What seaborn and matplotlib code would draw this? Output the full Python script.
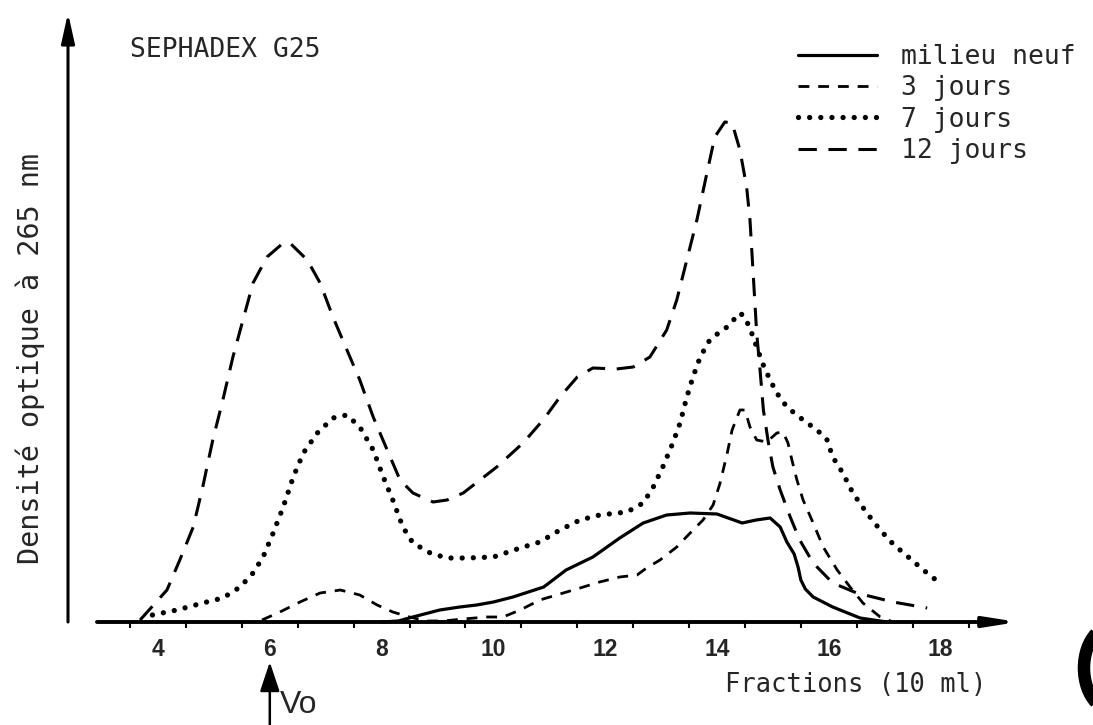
import matplotlib
matplotlib.use("Agg")
import matplotlib.pyplot as plt
from matplotlib.patches import Arc
from matplotlib.transforms import IdentityTransform
import seaborn as sns
import pandas as pd

# Elution profiles on Sephadex G25 (optical density at 265 nm, arbitrary units)
series_names = ["milieu neuf", "3 jours", "7 jours", "12 jours"]

milieu_x = [8.0, 8.3, 8.56, 9.04, 9.4, 9.7, 10.0, 10.35, 10.9, 11.3, 11.78, 12.26,
            12.68, 13.1, 13.52, 14.0, 14.2, 14.45, 14.7, 14.95, 15.13, 15.25,
            15.38, 15.45, 15.5, 15.58, 15.72, 16.07, 16.56, 17.04]
milieu_y = [0.0, 0.01, 0.05, 0.12, 0.15, 0.17, 0.20, 0.25, 0.35, 0.52, 0.65, 0.84,
            0.99, 1.07, 1.09, 1.08, 1.04, 0.99, 1.02, 1.04, 0.95, 0.80,
            0.68, 0.55, 0.42, 0.33, 0.25, 0.15, 0.04, 0.0]

j3_x = [5.86, 6.18, 6.54, 6.9, 7.26, 7.61, 7.92, 8.2, 8.5, 8.8, 9.1, 9.46, 9.88,
        10.17, 10.48, 10.83, 11.25, 11.55, 11.9, 12.26, 12.57, 12.74, 12.98,
        13.28, 13.52, 13.75, 13.93, 14.05, 14.18, 14.27, 14.41, 14.5, 14.59,
        14.71, 14.89, 15.07, 15.18, 15.27, 15.34, 15.43, 15.54, 15.72, 15.9,
        16.15, 16.38, 16.61, 16.92, 17.15]
j3_y = [0.02, 0.10, 0.20, 0.29, 0.32, 0.27, 0.17, 0.10, 0.05, 0.01, 0.01, 0.03,
        0.05, 0.05, 0.12, 0.22, 0.29, 0.34, 0.40, 0.45, 0.47, 0.54, 0.62,
        0.75, 0.89, 1.02, 1.17, 1.38, 1.68, 1.92, 2.12, 2.12, 1.95,
        1.82, 1.80, 1.89, 1.90, 1.79, 1.62, 1.42, 1.22, 0.99, 0.75,
        0.52, 0.35, 0.19, 0.05, 0.0]

j7_x = [3.9, 4.34, 4.8, 5.16, 5.47, 5.7, 5.88, 6.06, 6.24, 6.42, 6.6, 6.85, 7.13,
        7.38, 7.61, 7.85, 8.03, 8.2, 8.38, 8.56, 8.87, 9.17, 9.53, 10.0, 10.48,
        10.83, 11.19, 11.55, 11.9, 12.39, 12.68, 12.86, 13.03, 13.21, 13.34,
        13.46, 13.57, 13.7, 13.87, 14.05, 14.18, 14.41, 14.5, 14.62, 14.71,
        14.82, 14.95, 15.07, 15.25, 15.54, 15.79, 15.97, 16.07, 16.25, 16.43,
        16.68, 16.92, 17.15, 17.4, 17.63, 17.8, 17.99]
j7_y = [0.07, 0.12, 0.19, 0.24, 0.35, 0.49, 0.65, 0.89, 1.15, 1.45, 1.69, 1.89,
        2.04, 2.07, 1.95, 1.72, 1.45, 1.22, 0.95, 0.79, 0.69, 0.64, 0.64, 0.65,
        0.74, 0.80, 0.92, 1.02, 1.07, 1.10, 1.19, 1.35, 1.55, 1.79, 1.99,
        2.25, 2.45, 2.65, 2.82, 2.90, 2.95, 3.09, 3.05, 2.89, 2.75,
        2.58, 2.42, 2.29, 2.15, 2.02, 1.92, 1.82, 1.65, 1.49, 1.29,
        1.09, 0.92, 0.78, 0.66, 0.55, 0.47, 0.39]

j12_x = [3.68, 4.16, 4.39, 4.63, 4.8, 4.98, 5.16, 5.34, 5.52, 5.7, 5.95, 6.24,
         6.36, 6.67, 6.9, 7.13, 7.38, 7.61, 7.85, 8.1, 8.33, 8.56, 8.92, 9.17,
         9.46, 9.76, 10.06, 10.53, 10.89, 11.19, 11.5, 11.78, 12.2, 12.5, 12.8,
         13.1, 13.28, 13.46, 13.64, 13.82, 13.96, 14.14, 14.27, 14.41, 14.53,
         14.59, 14.64, 14.71, 14.77, 14.83, 14.92, 15.0, 15.13, 15.31, 15.48,
         15.72, 16.07, 16.5, 17.15, 17.76]
j12_y = [0.02, 0.32, 0.62, 0.95, 1.35, 1.82, 2.22, 2.65, 3.02, 3.39, 3.65, 3.79,
         3.79, 3.62, 3.39, 3.05, 2.72, 2.42, 2.05, 1.72, 1.42, 1.29, 1.20, 1.22,
         1.29, 1.42, 1.55, 1.79, 2.02, 2.25, 2.45, 2.54, 2.53, 2.55, 2.65,
         2.92, 3.22, 3.62, 4.02, 4.49, 4.85, 5.00, 4.99, 4.72, 4.35,
         4.02, 3.55, 2.89, 2.52, 2.12, 1.79, 1.55, 1.32, 1.05, 0.82,
         0.59, 0.39, 0.29, 0.20, 0.14]

x_tick_values = [4, 6, 8, 10, 12, 14, 16, 18]
x_minor_ticks = [3.5, 4.5, 5.5, 6.5, 7.5, 8.5, 9.5, 10.5, 11.5, 12.5, 13.5,
                 14.5, 15.5, 16.5, 17.5, 18.5]

series = {
    "milieu neuf": (milieu_x, milieu_y),
    "3 jours": (j3_x, j3_y),
    "7 jours": (j7_x, j7_y),
    "12 jours": (j12_x, j12_y),
}
styles = {
    "milieu neuf": dict(lw=2.3, linestyle="-"),
    "3 jours": dict(lw=2.0, linestyle=(0, (3.9, 3.2))),
    "7 jours": dict(lw=3.8, linestyle=(0, (0.01, 2.1)), dash_capstyle="round"),
    "12 jours": dict(lw=2.2, linestyle=(0, (6.0, 3.8))),
}

sns.set_style("white")
plt.rcParams["font.family"] = ["DejaVu Sans Mono", "DejaVu Sans"]

W, H = 1093, 725
fig = plt.figure(figsize=(W / 100, H / 100), dpi=100)
fig.patch.set_facecolor("white")

# axes frame: y axis at px 68, baseline at px 622, top at px 12
ax = fig.add_axes([68 / W, (H - 622) / H, 952 / W, 610 / H])
px_per_unit = 55.9
ax.set_xlim(4 + (68 - 158) / px_per_unit, 4 + (1020 - 158) / px_per_unit)
ax.set_ylim(0, 6.10)
ax.set_facecolor("none")
for s in ax.spines.values():
    s.set_visible(False)

for name in series_names:
    xs, ys = series[name]
    df = pd.DataFrame({"fraction": xs, "densite": ys})
    sns.lineplot(data=df, x="fraction", y="densite", ax=ax, color="black",
                 estimator=None, errorbar=None, label=name, clip_on=False,
                 **styles[name])

# axes drawn as arrows
x0, x1 = ax.get_xlim()
ax.annotate("", xy=(4 + (1018 - 158) / px_per_unit, 0),
            xytext=(4 + (97 - 158) / px_per_unit, 0),
            arrowprops=dict(arrowstyle="-|>,head_length=1.9,head_width=0.3",
                            lw=2.8, color="black", shrinkA=0, shrinkB=0),
            annotation_clip=False)
ax.annotate("", xy=(x0, 6.09), xytext=(x0, 0),
            arrowprops=dict(arrowstyle="-|>,head_length=1.8,head_width=0.4",
                            lw=2.2, color="black", shrinkA=0, shrinkB=0),
            annotation_clip=False)

ax.set_xticks(x_tick_values)
ax.set_xticklabels([str(v) for v in x_tick_values])
ax.set_xticks(x_minor_ticks, minor=True)
ax.set_yticks([])
ax.tick_params(axis="x", which="major", length=0, pad=11.5)
ax.tick_params(axis="x", which="minor", length=4, width=1.5, direction="out",
               color="black", bottom=True)
for lab in ax.get_xticklabels():
    lab.set_fontfamily("Liberation Sans")
    lab.set_fontweight("bold")
    lab.set_fontsize(16.5)

ax.set_xlabel("Fractions (10 ml)", fontsize=18.4, va="center")
ax.xaxis.set_label_coords((856 - 68) / 952, (622 - 685) / 610)
ax.set_ylabel("Densité optique à 265 nm", fontsize=20.5, va="center")
ax.yaxis.set_label_coords((30 - 68) / 952, (622 - 359) / 610)

ax.text((130 - 68) / 952, (622 - 50) / 610, "SEPHADEX G25", transform=ax.transAxes,
        fontsize=19, ha="left", va="center")

# void volume marker
ax.annotate("", xy=(6.0, -0.40), xytext=(6.0, -1.05),
            arrowprops=dict(arrowstyle="-|>,head_length=1.8,head_width=0.6",
                            lw=1.8, color="black", shrinkA=0, shrinkB=0),
            annotation_clip=False)
ax.text(4 + (280 - 158) / px_per_unit, -0.83, "Vo", fontsize=23,
        family="Liberation Sans", ha="left", va="center")

leg = ax.legend(loc="upper left", bbox_to_anchor=(798 / W, 1 - 44 / H),
                bbox_transform=fig.transFigure, frameon=False, fontsize=19,
                handlelength=3.0, handletextpad=0.9, labelspacing=0.2,
                borderpad=0, borderaxespad=0)

# heavy bracket mark at the right page edge (pixel coordinates)
fig.add_artist(Arc((1112, H - 668), 56, 84, theta1=115, theta2=245,
                   lw=9, color="black", transform=IdentityTransform()))

fig.savefig("out.png", dpi=100, facecolor="white")
